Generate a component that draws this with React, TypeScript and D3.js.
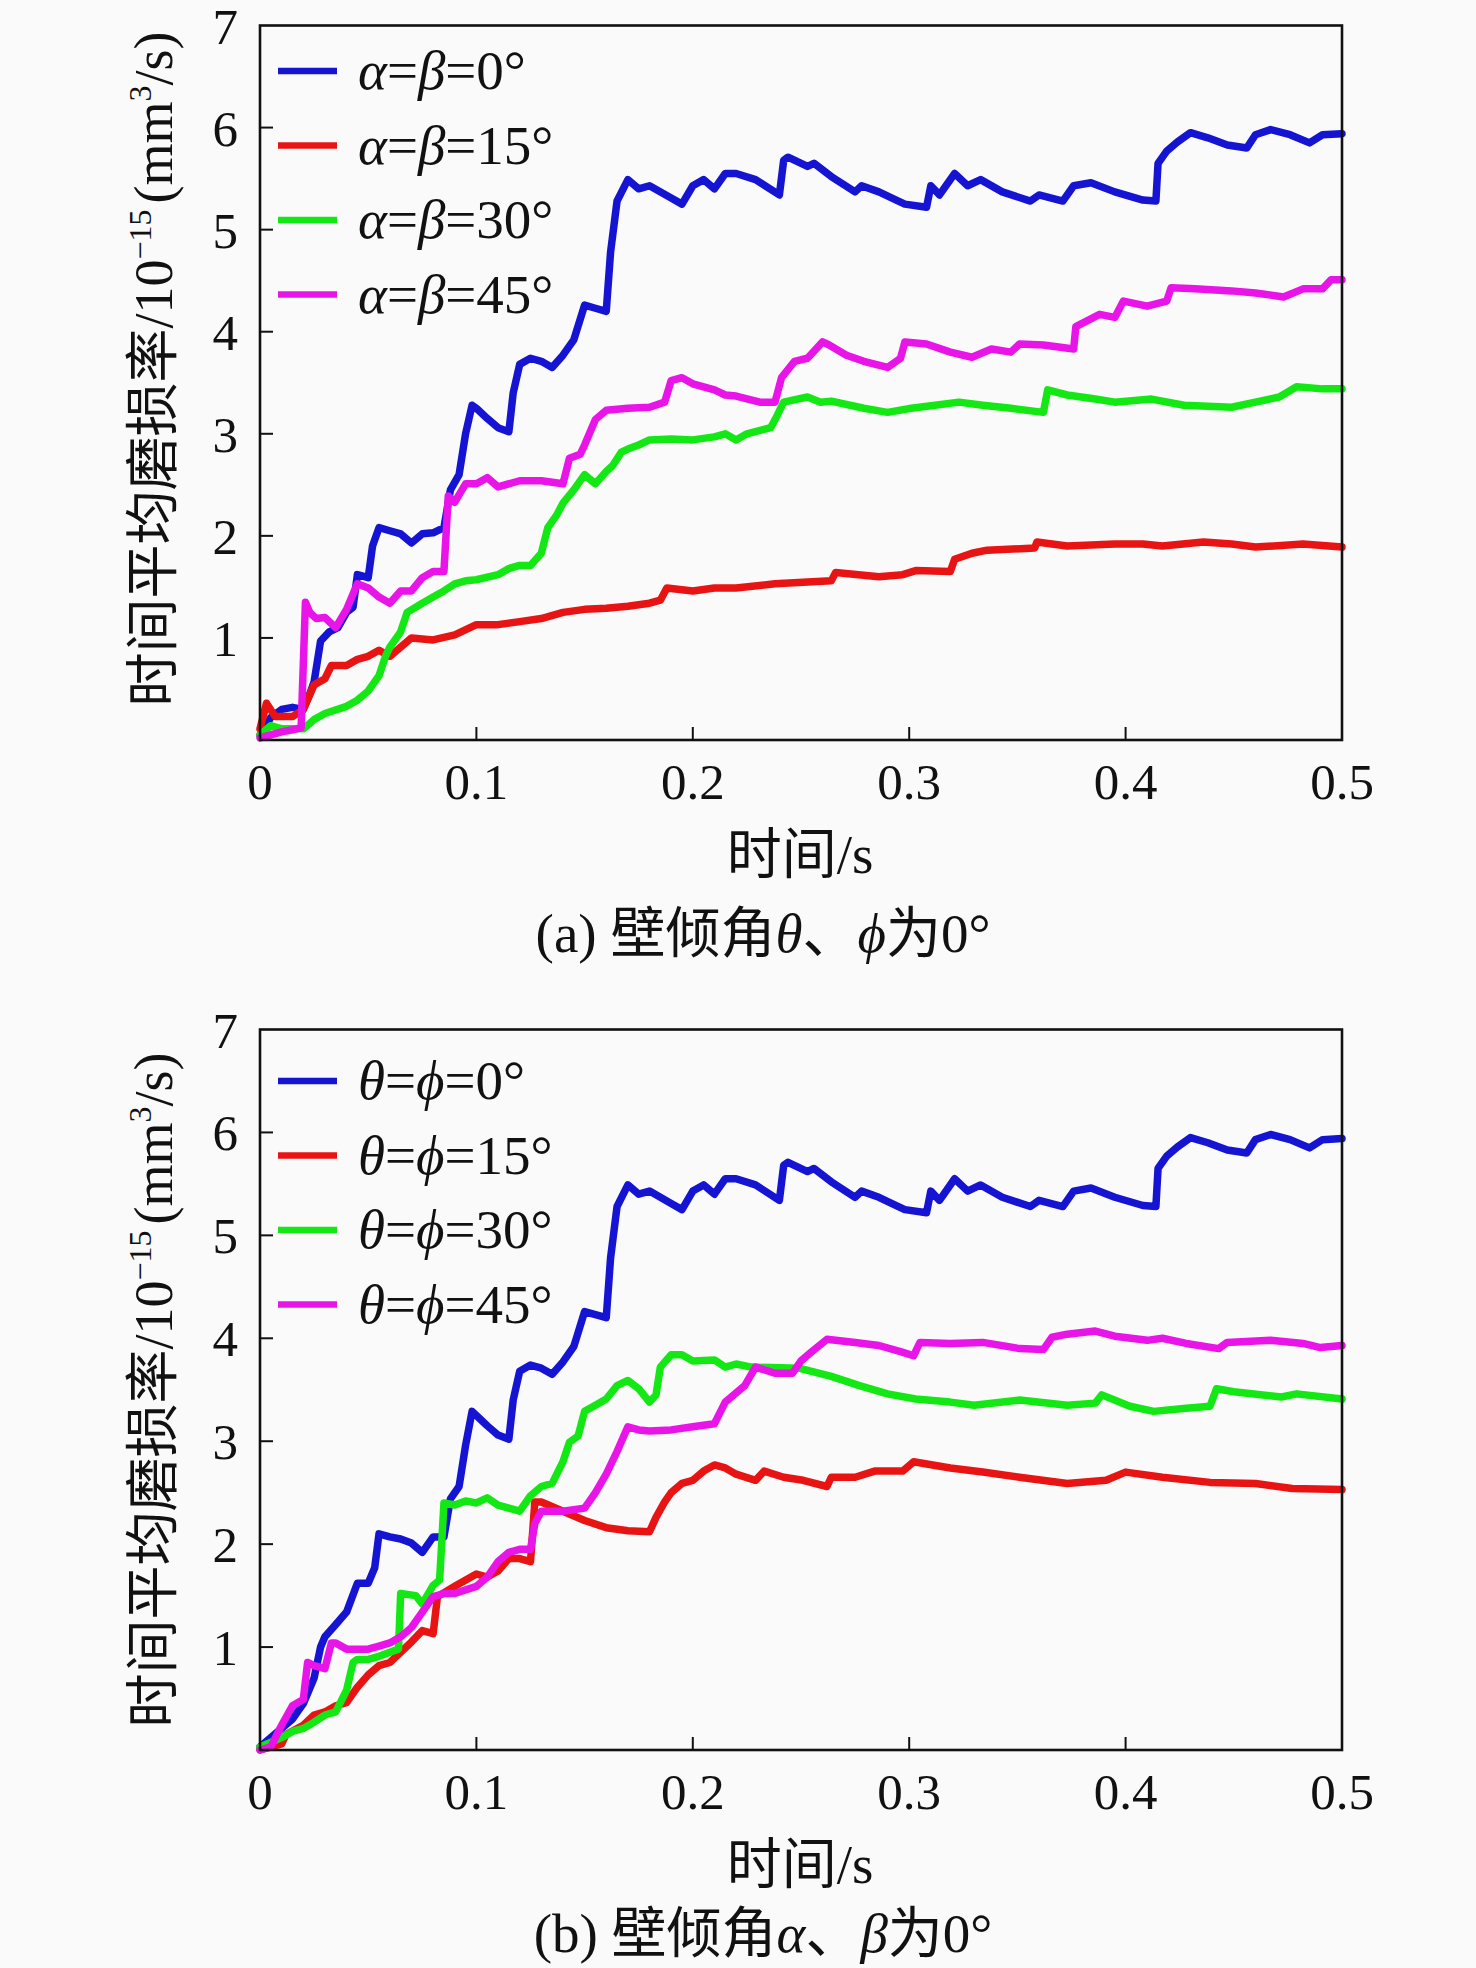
import * as d3 from "d3";

const W = 1476;
const H = 1968;
const SERIF = '"Liberation Serif", "Times New Roman", "Noto Sans CJK SC", serif';

const X_TICKS = [0, 0.1, 0.2, 0.3, 0.4, 0.5];
const X_TICK_LABELS = ["0", "0.1", "0.2", "0.3", "0.4", "0.5"];
const Y_TICKS = [1, 2, 3, 4, 5, 6, 7];

const COLORS = ["#1414d2", "#e81414", "#14e814", "#e814e8"];
const ANGLES = ["0°", "15°", "30°", "45°"];

type Pt = [number, number];

// ---- panel (a): theta = phi = 0 ----
const blueHeadA: Pt[] = [
  [0, 0.05], [0.005, 0.22], [0.01, 0.3], [0.015, 0.32], [0.02, 0.3], [0.023, 0.45],
  [0.025, 0.57], [0.028, 0.97], [0.032, 1.06], [0.036, 1.1], [0.04, 1.25], [0.043, 1.3],
  [0.045, 1.62], [0.05, 1.59], [0.052, 1.9], [0.055, 2.08], [0.06, 2.05], [0.065, 2.02],
  [0.07, 1.93], [0.075, 2.02], [0.08, 2.03], [0.085, 2.08], [0.088, 2.45], [0.092, 2.6],
  [0.095, 3.0], [0.098, 3.28],
];

const blueTail: Pt[] = [
  [0.1, 3.25], [0.105, 3.15], [0.11, 3.06], [0.115, 3.02], [0.117, 3.4], [0.12, 3.68],
  [0.125, 3.74], [0.13, 3.71], [0.135, 3.65], [0.14, 3.77], [0.145, 3.92], [0.15, 4.26],
  [0.155, 4.23], [0.16, 4.2], [0.162, 4.78], [0.165, 5.28], [0.17, 5.49], [0.175, 5.4],
  [0.18, 5.43], [0.19, 5.31], [0.195, 5.25], [0.2, 5.43], [0.205, 5.49], [0.21, 5.4],
  [0.215, 5.55], [0.22, 5.55], [0.229, 5.49], [0.24, 5.34], [0.242, 5.68], [0.244, 5.71],
  [0.253, 5.62], [0.256, 5.65], [0.264, 5.52], [0.275, 5.37], [0.278, 5.43], [0.286, 5.37],
  [0.295, 5.28], [0.298, 5.25], [0.308, 5.22], [0.31, 5.43], [0.314, 5.34], [0.321, 5.55],
  [0.327, 5.43], [0.333, 5.49], [0.343, 5.37], [0.356, 5.28], [0.36, 5.34], [0.371, 5.28],
  [0.376, 5.43], [0.384, 5.46], [0.395, 5.37], [0.408, 5.29], [0.414, 5.28], [0.415, 5.65],
  [0.419, 5.77], [0.424, 5.86], [0.43, 5.95], [0.438, 5.9], [0.447, 5.83], [0.456, 5.8],
  [0.46, 5.93], [0.467, 5.98], [0.476, 5.93], [0.485, 5.85], [0.491, 5.93], [0.5, 5.94],
];

const redA: Pt[] = [
  [0, 0.11], [0.003, 0.36], [0.007, 0.23], [0.015, 0.23], [0.02, 0.3], [0.025, 0.54],
  [0.03, 0.6], [0.033, 0.73], [0.04, 0.73], [0.045, 0.79], [0.05, 0.82], [0.055, 0.88],
  [0.06, 0.82], [0.065, 0.91], [0.07, 1.0], [0.08, 0.98], [0.09, 1.03], [0.1, 1.13],
  [0.11, 1.13], [0.12, 1.16], [0.13, 1.19], [0.14, 1.25], [0.15, 1.28], [0.16, 1.29],
  [0.17, 1.31], [0.18, 1.34], [0.185, 1.37], [0.188, 1.49], [0.2, 1.46], [0.21, 1.49],
  [0.22, 1.49], [0.238, 1.53], [0.264, 1.56], [0.266, 1.64], [0.286, 1.6], [0.297, 1.62],
  [0.303, 1.66], [0.319, 1.65], [0.321, 1.77], [0.329, 1.83], [0.336, 1.86], [0.358, 1.88],
  [0.359, 1.94], [0.373, 1.9], [0.395, 1.92], [0.408, 1.92], [0.417, 1.9], [0.436, 1.94],
  [0.449, 1.92], [0.46, 1.89], [0.482, 1.92], [0.5, 1.89],
];

const greenA: Pt[] = [
  [0, 0.05], [0.005, 0.14], [0.01, 0.11], [0.02, 0.11], [0.025, 0.2], [0.03, 0.26],
  [0.04, 0.33], [0.045, 0.39], [0.05, 0.48], [0.055, 0.63], [0.058, 0.82], [0.06, 0.91],
  [0.065, 1.06], [0.068, 1.25], [0.075, 1.34], [0.08, 1.4], [0.085, 1.46], [0.09, 1.53],
  [0.095, 1.56], [0.1, 1.57], [0.11, 1.62], [0.115, 1.68], [0.12, 1.71], [0.125, 1.71],
  [0.13, 1.83], [0.133, 2.08], [0.137, 2.2], [0.14, 2.32], [0.145, 2.45], [0.15, 2.6],
  [0.155, 2.51], [0.16, 2.63], [0.163, 2.69], [0.167, 2.82], [0.17, 2.85], [0.175, 2.89],
  [0.18, 2.94], [0.19, 2.95], [0.2, 2.94], [0.21, 2.97], [0.215, 3.0], [0.22, 2.94],
  [0.225, 3.0], [0.236, 3.06], [0.239, 3.18], [0.242, 3.31], [0.253, 3.36], [0.259, 3.31],
  [0.264, 3.32], [0.279, 3.25], [0.29, 3.21], [0.301, 3.25], [0.312, 3.28], [0.323, 3.31],
  [0.334, 3.28], [0.347, 3.25], [0.362, 3.21], [0.364, 3.43], [0.373, 3.38], [0.386, 3.34],
  [0.395, 3.31], [0.412, 3.34], [0.427, 3.28], [0.449, 3.26], [0.46, 3.31], [0.471, 3.36],
  [0.479, 3.46], [0.491, 3.44], [0.5, 3.44],
];

const magentaA: Pt[] = [
  [0, 0.02], [0.005, 0.05], [0.01, 0.08], [0.015, 0.1], [0.019, 0.12], [0.021, 1.35],
  [0.023, 1.25], [0.026, 1.19], [0.03, 1.2], [0.035, 1.1], [0.04, 1.28], [0.045, 1.53],
  [0.05, 1.49], [0.055, 1.4], [0.06, 1.34], [0.065, 1.46], [0.07, 1.46], [0.075, 1.59],
  [0.08, 1.65], [0.085, 1.65], [0.087, 2.39], [0.09, 2.33], [0.095, 2.51], [0.1, 2.51],
  [0.105, 2.57], [0.11, 2.48], [0.12, 2.54], [0.13, 2.54], [0.14, 2.51], [0.143, 2.76],
  [0.148, 2.8], [0.15, 2.89], [0.155, 3.14], [0.16, 3.23], [0.17, 3.25], [0.18, 3.26],
  [0.187, 3.31], [0.19, 3.52], [0.195, 3.55], [0.2, 3.49], [0.21, 3.43], [0.215, 3.38],
  [0.22, 3.37], [0.231, 3.31], [0.238, 3.31], [0.241, 3.55], [0.247, 3.71], [0.253, 3.74],
  [0.26, 3.9], [0.263, 3.87], [0.271, 3.77], [0.279, 3.71], [0.29, 3.65], [0.296, 3.74],
  [0.298, 3.9], [0.308, 3.88], [0.319, 3.8], [0.329, 3.75], [0.338, 3.83], [0.347, 3.8],
  [0.351, 3.88], [0.362, 3.87], [0.376, 3.83], [0.377, 4.05], [0.388, 4.17], [0.395, 4.14],
  [0.399, 4.3], [0.41, 4.25], [0.419, 4.3], [0.421, 4.43], [0.432, 4.42], [0.449, 4.4],
  [0.46, 4.38], [0.473, 4.34], [0.482, 4.42], [0.491, 4.42], [0.495, 4.51], [0.5, 4.51],
];

// ---- panel (b): alpha = beta = 0 ----
const blueHeadB: Pt[] = [
  [0, 0.03], [0.005, 0.12], [0.01, 0.21], [0.015, 0.3], [0.02, 0.45], [0.025, 0.7],
  [0.028, 1.0], [0.03, 1.1], [0.035, 1.22], [0.04, 1.34], [0.045, 1.62], [0.05, 1.62],
  [0.053, 1.77], [0.055, 2.1], [0.06, 2.07], [0.065, 2.05], [0.07, 2.01], [0.075, 1.92],
  [0.08, 2.07], [0.085, 2.07], [0.088, 2.44], [0.092, 2.56], [0.095, 2.96], [0.098, 3.29],
];

const redB: Pt[] = [
  [0, 0], [0.005, 0.03], [0.01, 0.06], [0.012, 0.15], [0.02, 0.24], [0.025, 0.34],
  [0.03, 0.37], [0.035, 0.43], [0.04, 0.46], [0.045, 0.61], [0.05, 0.73], [0.055, 0.82],
  [0.06, 0.85], [0.065, 0.95], [0.07, 1.05], [0.075, 1.16], [0.08, 1.13], [0.082, 1.49],
  [0.09, 1.59], [0.1, 1.71], [0.105, 1.68], [0.11, 1.74], [0.115, 1.86], [0.12, 1.86],
  [0.125, 1.83], [0.127, 2.41], [0.13, 2.41], [0.14, 2.32], [0.15, 2.23], [0.16, 2.16],
  [0.17, 2.13], [0.18, 2.12], [0.183, 2.26], [0.187, 2.41], [0.19, 2.5], [0.195, 2.59],
  [0.2, 2.62], [0.205, 2.71], [0.21, 2.77], [0.215, 2.74], [0.22, 2.68], [0.229, 2.62],
  [0.233, 2.71], [0.242, 2.65], [0.251, 2.62], [0.262, 2.56], [0.264, 2.65], [0.275, 2.65],
  [0.284, 2.71], [0.297, 2.71], [0.302, 2.8], [0.319, 2.74], [0.334, 2.7], [0.351, 2.65],
  [0.373, 2.59], [0.391, 2.62], [0.4, 2.7], [0.417, 2.65], [0.439, 2.6], [0.46, 2.59],
  [0.477, 2.54], [0.5, 2.53],
];

const greenB: Pt[] = [
  [0, 0.03], [0.01, 0.12], [0.015, 0.18], [0.02, 0.21], [0.025, 0.27], [0.03, 0.34],
  [0.035, 0.37], [0.04, 0.58], [0.043, 0.85], [0.045, 0.88], [0.05, 0.88], [0.055, 0.91],
  [0.06, 0.95], [0.064, 0.98], [0.065, 1.52], [0.072, 1.5], [0.075, 1.42], [0.08, 1.6],
  [0.083, 1.65], [0.085, 2.4], [0.09, 2.38], [0.095, 2.42], [0.1, 2.4], [0.105, 2.45],
  [0.11, 2.38], [0.115, 2.35], [0.12, 2.32], [0.125, 2.47], [0.13, 2.56], [0.135, 2.59],
  [0.14, 2.8], [0.143, 2.99], [0.147, 3.05], [0.15, 3.29], [0.155, 3.35], [0.16, 3.41],
  [0.165, 3.54], [0.17, 3.59], [0.175, 3.51], [0.18, 3.38], [0.183, 3.45], [0.185, 3.72],
  [0.19, 3.84], [0.195, 3.84], [0.2, 3.78], [0.21, 3.79], [0.215, 3.72], [0.22, 3.75],
  [0.227, 3.72], [0.249, 3.71], [0.264, 3.63], [0.277, 3.54], [0.29, 3.46], [0.303, 3.41],
  [0.319, 3.38], [0.33, 3.35], [0.351, 3.4], [0.373, 3.35], [0.386, 3.37], [0.389, 3.45],
  [0.402, 3.34], [0.413, 3.29], [0.428, 3.32], [0.439, 3.34], [0.442, 3.51], [0.45, 3.48],
  [0.472, 3.43], [0.479, 3.46], [0.5, 3.41],
];

const magentaB: Pt[] = [
  [0, 0], [0.005, 0.03], [0.01, 0.24], [0.015, 0.43], [0.02, 0.49], [0.022, 0.85],
  [0.025, 0.82], [0.03, 0.79], [0.033, 1.04], [0.035, 1.04], [0.04, 0.98], [0.05, 0.98],
  [0.055, 1.01], [0.06, 1.04], [0.065, 1.1], [0.07, 1.19], [0.075, 1.34], [0.08, 1.49],
  [0.085, 1.52], [0.09, 1.52], [0.1, 1.59], [0.105, 1.68], [0.11, 1.83], [0.115, 1.92],
  [0.12, 1.95], [0.125, 1.95], [0.127, 2.2], [0.13, 2.32], [0.14, 2.32], [0.15, 2.35],
  [0.155, 2.5], [0.16, 2.68], [0.165, 2.9], [0.17, 3.14], [0.175, 3.11], [0.18, 3.1],
  [0.19, 3.11], [0.2, 3.14], [0.21, 3.17], [0.215, 3.38], [0.224, 3.54], [0.229, 3.72],
  [0.238, 3.66], [0.246, 3.66], [0.25, 3.78], [0.255, 3.87], [0.262, 3.99], [0.275, 3.96],
  [0.286, 3.93], [0.296, 3.87], [0.302, 3.83], [0.305, 3.96], [0.319, 3.95], [0.334, 3.96],
  [0.351, 3.9], [0.362, 3.89], [0.366, 4.01], [0.373, 4.04], [0.386, 4.07], [0.395, 4.02],
  [0.41, 3.98], [0.417, 4.0], [0.428, 3.95], [0.443, 3.9], [0.447, 3.96], [0.467, 3.98],
  [0.482, 3.95], [0.49, 3.91], [0.5, 3.93],
];

const LEFT = 260;
const RIGHT = 1342;
const TICK_FONT = 51;
const TEXT_FONT = 55;

type PanelProps = {
  top: number;
  bottom: number;
  legendTop: number;
  ylabelY: number;
  captionY: number;
  series: Pt[][];
  greek: [string, string];
  letter: string;
  captionGreek: [string, string];
};

const Panel = ({ top, bottom, legendTop, ylabelY, captionY, series, greek, letter, captionGreek }: PanelProps) => {
  const xScale = d3.scaleLinear().domain([0, 0.5]).range([LEFT, RIGHT]);
  const yScale = d3.scaleLinear().domain([0, 7]).range([bottom, top]);
  const line = d3
    .line<Pt>()
    .x((d) => xScale(d[0]))
    .y((d) => yScale(d[1]));

  return (
    <g fontFamily={SERIF} fill="#111">
      {/* series */}
      {series.map((s, i) => (
        <path
          key={i}
          d={line(s) || ""}
          fill="none"
          stroke={COLORS[i]}
          strokeWidth={7.5}
          strokeLinejoin="round"
          strokeLinecap="round"
        />
      ))}

      {/* frame */}
      <rect
        x={LEFT}
        y={top}
        width={RIGHT - LEFT}
        height={bottom - top}
        fill="none"
        stroke="#111"
        strokeWidth={2.6}
      />

      {/* y ticks */}
      {Y_TICKS.map((v) => (
        <g key={v}>
          {v < 7 && (
            <line x1={LEFT} x2={LEFT + 13} y1={yScale(v)} y2={yScale(v)} stroke="#111" strokeWidth={2} />
          )}
          <text x={238} y={yScale(v) + 18} fontSize={TICK_FONT} textAnchor="end">
            {v}
          </text>
        </g>
      ))}

      {/* x ticks */}
      {X_TICKS.map((v, i) => (
        <g key={v}>
          {i > 0 && i < X_TICKS.length - 1 && (
            <line x1={xScale(v)} x2={xScale(v)} y1={bottom} y2={bottom - 13} stroke="#111" strokeWidth={2} />
          )}
          <text x={xScale(v)} y={bottom + 59} fontSize={TICK_FONT} textAnchor="middle">
            {X_TICK_LABELS[i]}
          </text>
        </g>
      ))}

      {/* legend */}
      {ANGLES.map((a, i) => {
        const y = legendTop + i * 74.5;
        return (
          <g key={a}>
            <line x1={278} x2={337} y1={y} y2={y} stroke={COLORS[i]} strokeWidth={6.5} />
            <text x={358} y={y + 18} fontSize={TEXT_FONT}>
              <tspan fontStyle="italic">{greek[0]}</tspan>
              <tspan>=</tspan>
              <tspan fontStyle="italic">{greek[1]}</tspan>
              <tspan>={a}</tspan>
            </text>
          </g>
        );
      })}

      {/* y label */}
      <text
        transform={`translate(172, ${ylabelY}) rotate(-90)`}
        fontSize={54}
        textAnchor="middle"
      >
        <tspan>时间平均磨损率/10</tspan>
        <tspan fontSize={32} dy={-21}>−15</tspan>
        <tspan dy={21} dx={6}>(mm</tspan>
        <tspan fontSize={32} dy={-21}>3</tspan>
        <tspan dy={21}>/s)</tspan>
      </text>

      {/* x label */}
      <text x={800} y={bottom + 133} fontSize={TEXT_FONT} textAnchor="middle">
        时间/s
      </text>

      {/* caption */}
      <text x={763} y={captionY} fontSize={TEXT_FONT} textAnchor="middle">
        <tspan>({letter}) 壁倾角</tspan>
        <tspan fontStyle="italic">{captionGreek[0]}</tspan>
        <tspan>、</tspan>
        <tspan fontStyle="italic">{captionGreek[1]}</tspan>
        <tspan>为0°</tspan>
      </text>
    </g>
  );
};

export default function App() {
  const seriesA = [[...blueHeadA, ...blueTail], redA, greenA, magentaA];
  const seriesB = [[...blueHeadB, ...blueTail], redB, greenB, magentaB];
  return (
    <svg
      width={W}
      height={H}
      style={{ position: "absolute", left: 0, top: 0, display: "block" }}
    >
      <rect width={W} height={H} fill="#fafafa" />
      <Panel
        top={25.5}
        bottom={740}
        legendTop={71}
        ylabelY={369}
        captionY={952}
        series={seriesA}
        greek={["α", "β"]}
        letter="a"
        captionGreek={["θ", "ϕ"]}
      />
      <Panel
        top={1029.5}
        bottom={1750}
        legendTop={1081}
        ylabelY={1390}
        captionY={1952}
        series={seriesB}
        greek={["θ", "ϕ"]}
        letter="b"
        captionGreek={["α", "β"]}
      />
    </svg>
  );
}
